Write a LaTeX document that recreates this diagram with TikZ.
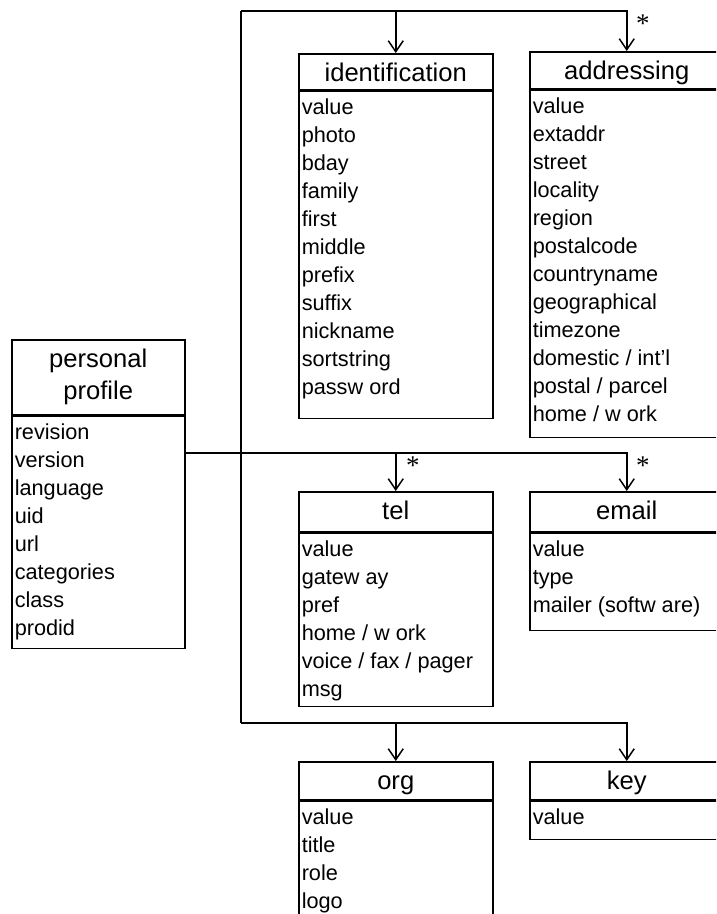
\documentclass[tikz,border=0pt]{standalone}
\usepackage{fontspec}
\setmainfont{Liberation Sans}
\newfontfamily\starfont{Liberation Serif}
\usetikzlibrary{arrows.meta}

\begin{document}
\begin{tikzpicture}[x=1pt, y=-1pt, line width=1.5pt,
  frame/.style={draw, rectangle, inner sep=0pt, anchor=north west},
  titletext/.style={anchor=base, inner sep=0pt, font=\fontsize{25.6}{32}\selectfont},
  attr/.style={anchor=base west, inner sep=0pt, font=\fontsize{21.7}{28}\selectfont},
  arr/.style={-{Straight Barb[length=11pt, width=15pt]}},
  mult/.style={inner sep=0pt, font=\starfont\fontsize{27}{27}\selectfont}]

\fill[white] (0,0) rectangle (716,914);
\useasboundingbox (0,0) rectangle (716,914);
\clip (0,0) rectangle (716,914);

% ---------- personal profile ----------
\node[frame, minimum width=173pt, minimum height=75pt] (ppH) at (11,339) {};
\node[frame, minimum width=173pt, minimum height=232pt] (ppB) at (ppH.south west) {};
\node[inner sep=0pt, align=center, font=\fontsize{25.6}{32}\selectfont] (ppT) at (ppH.center) {personal\\profile};
\foreach \a [count=\i from 0] in {revision,version,language,uid,url,categories,class,prodid}
  \node[attr] (ppA\i) at ([shift={(3pt,-24pt-28pt*\i)}]ppB.north west) {\a};

% ---------- identification ----------
\node[frame, minimum width=194pt, minimum height=36pt] (identH) at (298,53) {};
\node[frame, minimum width=194pt, minimum height=327pt] (identB) at (identH.south west) {};
\node[titletext] (identT) at ([yshift=-28pt]identH.north) {identification};
\foreach \a [count=\i from 0] in {value,photo,bday,family,first,middle,prefix,suffix,nickname,sortstring,passw ord}
  \node[attr] (identA\i) at ([shift={(3pt,-24pt-28pt*\i)}]identB.north west) {\a};

% ---------- addressing ----------
\node[frame, minimum width=194pt, minimum height=37pt] (addrH) at (529,51) {};
\node[frame, minimum width=194pt, minimum height=347pt] (addrB) at (addrH.south west) {};
\node[titletext] (addrT) at ([yshift=-28pt]addrH.north) {addressing};
\foreach \a [count=\i from 0] in {value,extaddr,street,locality,region,postalcode,countryname,geographical,timezone,domestic / int’l,postal / parcel,home / w ork}
  \node[attr] (addrA\i) at ([shift={(3pt,-24pt-28pt*\i)}]addrB.north west) {\a};

% ---------- tel ----------
\node[frame, minimum width=194pt, minimum height=40pt] (telH) at (298,491) {};
\node[frame, minimum width=194pt, minimum height=173pt] (telB) at (telH.south west) {};
\node[titletext] (telT) at ([yshift=-28pt]telH.north) {tel};
\foreach \a [count=\i from 0] in {value,gatew ay,pref,home / w ork,voice / fax / pager,msg}
  \node[attr] (telA\i) at ([shift={(3pt,-24pt-28pt*\i)}]telB.north west) {\a};

% ---------- email ----------
\node[frame, minimum width=194pt, minimum height=40pt] (emailH) at (529,491) {};
\node[frame, minimum width=194pt, minimum height=97pt] (emailB) at (emailH.south west) {};
\node[titletext] (emailT) at ([yshift=-28pt]emailH.north) {email};
\foreach \a [count=\i from 0] in {value,type,mailer (softw are)}
  \node[attr] (emailA\i) at ([shift={(3pt,-24pt-28pt*\i)}]emailB.north west) {\a};

% ---------- org ----------
\node[frame, minimum width=194pt, minimum height=38pt] (orgH) at (298,761) {};
\node[frame, minimum width=194pt, minimum height=170pt] (orgB) at (orgH.south west) {};
\node[titletext] (orgT) at ([yshift=-28pt]orgH.north) {org};
\foreach \a [count=\i from 0] in {value,title,role,logo}
  \node[attr] (orgA\i) at ([shift={(3pt,-24pt-28pt*\i)}]orgB.north west) {\a};

% ---------- key ----------
\node[frame, minimum width=194pt, minimum height=38pt] (keyH) at (529,761) {};
\node[frame, minimum width=194pt, minimum height=38pt] (keyB) at (keyH.south west) {};
\node[titletext] (keyT) at ([yshift=-28pt]keyH.north) {key};
\node[attr] (keyA0) at ([shift={(3pt,-24pt)}]keyB.north west) {value};

% ---------- connectors ----------
\coordinate (tl) at (241,11);
\coordinate (bl) at (241,723);
\coordinate (ppout) at (184,453);

\draw (tl) -- (bl);
\draw[arr] (tl) -| (addrH.north);
\draw[arr] (tl -| identH.north) -- (identH.north);

\draw[arr] (ppout) -| (emailH.north);
\draw[arr] (ppout -| telH.north) -- (telH.north);

\draw[arr] (bl) -| (keyH.north);
\draw[arr] (bl -| orgH.north) -- (orgH.north);

% multiplicities
\node[mult] (mAddr) at ([shift={(16pt,27pt)}]addrH.north) {*};
\node[mult] (mTel) at ([shift={(17pt,25pt)}]telH.north) {*};
\node[mult] (mEmail) at ([shift={(16pt,25pt)}]emailH.north) {*};
\end{tikzpicture}
\end{document}
